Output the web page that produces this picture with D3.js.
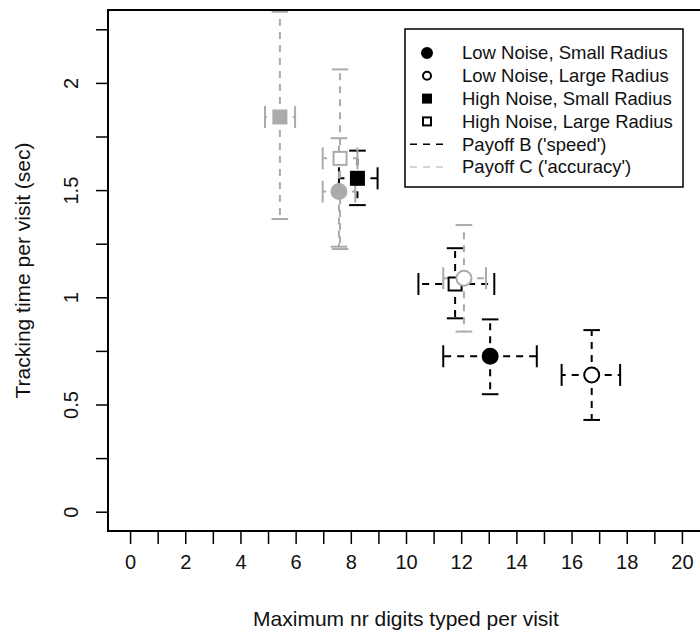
<!DOCTYPE html>
<html>
<head>
<meta charset="utf-8">
<script src="https://cdn.jsdelivr.net/npm/d3@7"></script>
<style>
  body { margin: 0; background: #fff; }
  svg { display: block; font-family: "Liberation Sans", Arial, sans-serif; }
</style>
</head>
<body>
<div class="chart"></div>
<script>
// Condition means with error bar ends.
const noise   = ["Low", "Low", "High", "High", "Low", "Low", "High", "High"];
const radius  = ["Small", "Large", "Small", "Large", "Small", "Large", "Small", "Large"];
const payoff  = ["B", "B", "B", "B", "C", "C", "C", "C"];
const digits  = [13.05, 16.73, 8.24, 11.78, 7.57, 12.10, 5.43, 7.61];
const digitLo = [11.35, 15.64, 7.57, 10.45, 6.98, 11.35, 4.89, 6.98];
const digitHi = [14.74, 17.76, 8.97, 13.20, 8.16, 12.90, 5.98, 8.24];
const track   = [0.725, 0.638, 1.555, 1.062, 1.493, 1.089, 1.841, 1.648];
const trackLo = [0.548, 0.428, 1.430, 0.902, 1.236, 0.840, 1.365, 1.225];
const trackHi = [0.897, 0.847, 1.684, 1.229, 1.742, 1.337, 2.332, 2.063];

const xTicks = d3.range(0, 21, 1);
const yTicks = d3.range(0, 2.26, 0.25);

const legendLabels = [
    "Low Noise, Small Radius",
    "Low Noise, Large Radius",
    "High Noise, Small Radius",
    "High Noise, Large Radius",
    "Payoff B ('speed')",
    "Payoff C ('accuracy')"
];

const width = 700, height = 634;
const gray = "#ababab";
const colorOf = p => p === "B" ? "#000" : gray;

let svg = d3.select("div.chart")
    .append("svg")
    .attr("width", width)
    .attr("height", height);

// R style: xlim c(0,20), ylim c(0,2.25) plus 4% on each side
let x = d3.scaleLinear().domain([-0.8, 20.8]).range([108, 704]);
let y = d3.scaleLinear().domain([-0.09, 2.34]).range([531, 10]);

// axes
let xAxis = d3.axisBottom(x).tickValues(xTicks).tickSize(13)
    .tickFormat(d => d % 2 === 0 ? d : "");
let gx = svg.append("g").attr("transform", `translate(0,${y.range()[0]})`).call(xAxis);
gx.select(".domain").remove();
gx.selectAll(".tick line").attr("stroke", "#000").attr("stroke-width", 1.5);
gx.selectAll(".tick text").attr("y", 37.5).attr("dy", 0)
    .attr("font-size", 20).attr("fill", "#111")
    .style("font-family", "Liberation Sans, Arial, sans-serif");

let yAxis = d3.axisLeft(y).tickValues(yTicks).tickSize(12)
    .tickFormat(d => Math.abs(d * 2 - Math.round(d * 2)) < 1e-9 ? d3.format("~g")(d) : "");
let gy = svg.append("g").attr("transform", `translate(${x.range()[0]},0)`).call(yAxis);
gy.select(".domain").remove();
gy.selectAll(".tick line").attr("stroke", "#000").attr("stroke-width", 1.5);
gy.selectAll(".tick text")
    .attr("x", null).attr("dy", null)
    .attr("text-anchor", "middle")
    .attr("transform", "translate(-30,0) rotate(-90)")
    .attr("font-size", 20).attr("fill", "#111")
    .style("font-family", "Liberation Sans, Arial, sans-serif");

// axis titles
svg.append("text")
    .attr("x", 406).attr("y", 626)
    .attr("text-anchor", "middle")
    .attr("font-size", 21)
    .attr("fill", "#111")
    .text("Maximum nr digits typed per visit");

svg.append("text")
    .attr("transform", "translate(30,270.5) rotate(-90)")
    .attr("text-anchor", "middle")
    .attr("font-size", 21)
    .attr("fill", "#111")
    .text("Tracking time per visit (sec)");

// plot region
svg.append("clipPath").attr("id", "plotclip")
    .append("rect")
    .attr("x", x.range()[0]).attr("y", y.range()[1])
    .attr("width", x.range()[1] - x.range()[0])
    .attr("height", y.range()[0] - y.range()[1]);

let plot = svg.append("g").attr("clip-path", "url(#plotclip)");

const idx = d3.range(digits.length);
const capW = 8.3, capH = 11;

// error bars: dashed from the mean outwards, solid caps
idx.forEach(i => {
    let cx = x(digits[i]), cy = y(track[i]);
    let g = plot.append("g")
        .attr("stroke", colorOf(payoff[i]))
        .attr("stroke-width", 2)
        .attr("fill", "none");
    [[x(digitLo[i]), cy], [x(digitHi[i]), cy], [cx, y(trackLo[i])], [cx, y(trackHi[i])]]
        .forEach(([ex, ey]) => {
            g.append("line")
                .attr("x1", cx).attr("y1", cy)
                .attr("x2", ex).attr("y2", ey)
                .attr("stroke-dasharray", "7,6");
        });
    [x(digitLo[i]), x(digitHi[i])].forEach(ex => {
        g.append("line").attr("x1", ex).attr("x2", ex)
            .attr("y1", cy - capH).attr("y2", cy + capH);
    });
    [y(trackLo[i]), y(trackHi[i])].forEach(ey => {
        g.append("line").attr("y1", ey).attr("y2", ey)
            .attr("x1", cx - capW).attr("x2", cx + capW);
    });
});

// points: circle = low noise, square = high noise; filled = small radius
function drawSymbol(sel, cx, cy, shape, filled, col, size) {
    let s;
    if (shape === "circle") {
        s = sel.append("circle").attr("cx", cx).attr("cy", cy).attr("r", size);
    } else {
        s = sel.append("rect")
            .attr("x", cx - size).attr("y", cy - size)
            .attr("width", size * 2).attr("height", size * 2);
    }
    s.attr("fill", filled ? col : "#fff")
        .attr("stroke", col)
        .attr("stroke-width", 2);
}

idx.forEach(i => {
    drawSymbol(plot, x(digits[i]), y(track[i]),
        noise[i] === "Low" ? "circle" : "square",
        radius[i] === "Small",
        colorOf(payoff[i]),
        noise[i] === "Low" ? 7.5 : 6.5);
});

// box
svg.append("rect")
    .attr("x", x.range()[0]).attr("y", y.range()[1])
    .attr("width", x.range()[1] - x.range()[0])
    .attr("height", y.range()[0] - y.range()[1])
    .attr("fill", "none").attr("stroke", "#000").attr("stroke-width", 2);

// legend
let legend = svg.append("g");
legend.append("rect")
    .attr("x", 405).attr("y", 29).attr("width", 278).attr("height", 158)
    .attr("fill", "#fff").attr("stroke", "#000").attr("stroke-width", 1.5);

const rowY = i => 53 + i * 22.8;
const legendShapes = [["circle", true], ["circle", false], ["square", true], ["square", false]];
legendShapes.forEach(([shape, filled], i) => {
    drawSymbol(legend, 427, rowY(i), shape, filled, "#000", shape === "circle" ? (filled ? 5 : 4) : 4);
});
["B", "C"].forEach((p, j) => {
    legend.append("line")
        .attr("x1", 410).attr("x2", 447)
        .attr("y1", rowY(4 + j)).attr("y2", rowY(4 + j))
        .attr("stroke", p === "B" ? "#000" : "#c8c8c8")
        .attr("stroke-width", 1.5)
        .attr("stroke-dasharray", "7,6");
});
legend.selectAll("text.lab")
    .data(legendLabels)
    .enter()
    .append("text")
    .attr("class", "lab")
    .attr("x", 462)
    .attr("y", (d, i) => rowY(i))
    .attr("dy", "0.35em")
    .attr("font-size", 18.5)
    .attr("fill", "#111")
    .text(d => d);
</script>
</body>
</html>
